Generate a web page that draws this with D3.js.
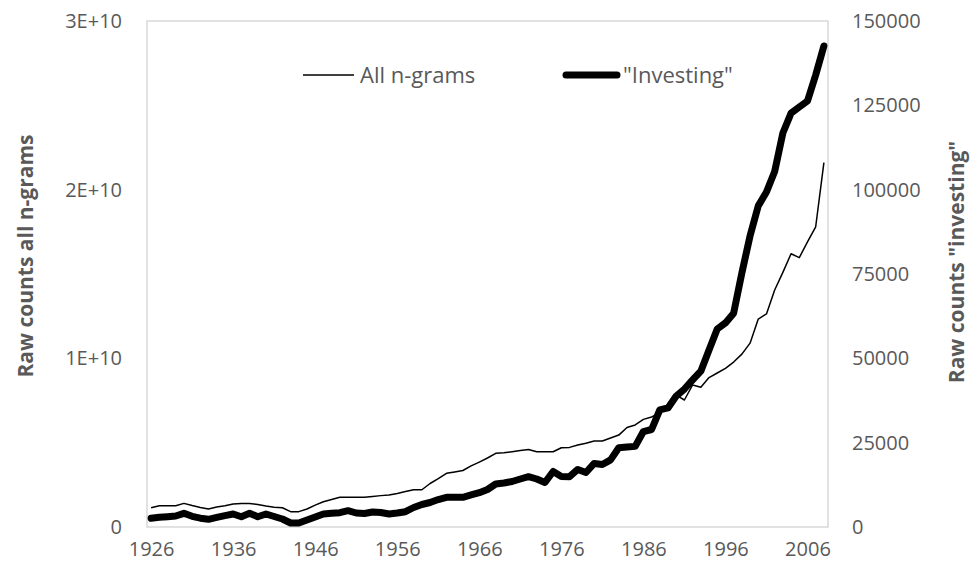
<!DOCTYPE html>
<html>
<head>
<meta charset="utf-8">
<script src="https://cdn.jsdelivr.net/npm/d3@7"></script>
<style>
  body { margin: 0; background: #fff; }
  text { font-family: "Open Sans", sans-serif; fill: #595959; }
</style>
</head>
<body>
<svg id="chart" width="972" height="576"></svg>
<script>
const years = d3.range(1926, 2009);

// all n-grams, in billions
const allNgrams = [
  1.14, 1.26, 1.26, 1.26, 1.40, 1.27, 1.16, 1.07, 1.19, 1.26,
  1.36, 1.40, 1.40, 1.33, 1.24, 1.17, 1.14, 0.91, 0.91, 1.07,
  1.30, 1.50, 1.63, 1.76, 1.76, 1.76, 1.76, 1.81, 1.86, 1.90,
  1.99, 2.10, 2.21, 2.21, 2.58, 2.87, 3.18, 3.26, 3.35, 3.62,
  3.85, 4.09, 4.37, 4.40, 4.46, 4.53, 4.59, 4.46, 4.46, 4.46,
  4.70, 4.72, 4.86, 4.96, 5.10, 5.10, 5.28, 5.45, 5.90, 6.05,
  6.38, 6.52, 6.76, 7.11, 7.82, 7.53, 8.42, 8.28, 8.86, 9.13,
  9.40, 9.78, 10.25, 10.9, 12.33, 12.63, 14.05, 15.1, 16.2, 15.97,
  16.9, 17.8, 21.6
];

// "investing", in thousands
const investing = [
  2.58, 2.88, 3.05, 3.26, 4.06, 3.17, 2.61, 2.28, 2.85, 3.38,
  3.85, 3.05, 4.06, 3.05, 3.85, 3.11, 2.37, 1.19, 1.19, 2.08,
  2.96, 3.85, 4.06, 4.24, 4.83, 4.15, 4.00, 4.45, 4.30, 3.85,
  4.15, 4.54, 5.78, 6.67, 7.26, 8.15, 8.81, 8.81, 8.81, 9.49,
  10.17, 11.12, 12.75, 13.04, 13.49, 14.23, 14.91, 14.23, 13.19, 16.45,
  14.97, 14.91, 17.05, 16.16, 18.83, 18.53, 19.9, 23.5, 23.7, 23.9,
  28.3, 28.9, 34.7, 35.3, 38.8, 40.9, 43.6, 46.2, 52.5, 58.7,
  60.5, 63.4, 75.3, 86.3, 95.2, 99.3, 105.4, 116.8, 122.7, 124.5,
  126.3, 134.0, 142.6
];

const leftTicks = [0, 1e10, 2e10, 3e10];
const leftTickLabels = ["0", "1E+10", "2E+10", "3E+10"];
const rightTicks = [0, 25000, 50000, 75000, 100000, 125000, 150000];
const xTicks = [1926, 1936, 1946, 1956, 1966, 1976, 1986, 1996, 2006];

const svg = d3.select("#chart");
const plot = { left: 147, right: 828, top: 21, bottom: 527 };

const x = d3.scalePoint().domain(years).range([plot.left, plot.right]).padding(0.5);
const yLeft = d3.scaleLinear().domain([0, 3e10]).range([plot.bottom, plot.top]);
const yRight = d3.scaleLinear().domain([0, 150000]).range([plot.bottom, plot.top]);

// plot border
svg.append("rect")
  .attr("x", plot.left).attr("y", plot.top)
  .attr("width", plot.right - plot.left).attr("height", plot.bottom - plot.top)
  .attr("fill", "none").attr("stroke", "#d9d9d9").attr("stroke-width", 1.5);

// left axis
const leftAxis = d3.axisLeft(yLeft).tickValues(leftTicks).tickSize(0).tickPadding(25)
  .tickFormat((d, i) => leftTickLabels[i]);
const gl = svg.append("g").attr("transform", `translate(${plot.left},0)`).call(leftAxis);
gl.select(".domain").remove();
gl.selectAll("text").attr("font-size", 20).attr("fill", "#595959").style("font-family", "Open Sans");

// right axis
const rightAxis = d3.axisRight(yRight).tickValues(rightTicks).tickSize(0).tickPadding(24)
  .tickFormat(d3.format("d"));
const gr = svg.append("g").attr("transform", `translate(${plot.right},0)`).call(rightAxis);
gr.select(".domain").remove();
gr.selectAll("text").attr("font-size", 20).attr("fill", "#595959").style("font-family", "Open Sans");

// bottom axis
const bottomAxis = d3.axisBottom(x).tickValues(xTicks).tickSize(0).tickPadding(15);
const gb = svg.append("g").attr("transform", `translate(0,${plot.bottom})`).call(bottomAxis);
gb.select(".domain").remove();
gb.selectAll("text").attr("font-size", 20).attr("fill", "#595959").style("font-family", "Open Sans");

// axis titles
svg.append("text")
  .attr("transform", "translate(33,256) rotate(-90)")
  .attr("text-anchor", "middle")
  .attr("font-size", 21).attr("font-weight", "bold")
  .text("Raw counts all n-grams");

svg.append("text")
  .attr("transform", "translate(964,262) rotate(-90)")
  .attr("text-anchor", "middle")
  .attr("font-size", 21).attr("font-weight", "bold")
  .text("Raw counts \"investing\"");

// lines
const lineAll = d3.line()
  .x((d, i) => x(years[i]))
  .y(d => yLeft(d * 1e9));
const lineInv = d3.line()
  .x((d, i) => x(years[i]))
  .y(d => yRight(d * 1000));

svg.append("path").datum(allNgrams)
  .attr("fill", "none").attr("stroke", "#000").attr("stroke-width", 1.5)
  .attr("stroke-linejoin", "round")
  .attr("d", lineAll);

svg.append("path").datum(investing)
  .attr("fill", "none").attr("stroke", "#000").attr("stroke-width", 7)
  .attr("stroke-linejoin", "round").attr("stroke-linecap", "round")
  .attr("d", lineInv);

// legend
const legend = svg.append("g");
legend.append("line")
  .attr("x1", 303).attr("x2", 354).attr("y1", 75).attr("y2", 75)
  .attr("stroke", "#000").attr("stroke-width", 1.5);
legend.append("text")
  .attr("x", 360).attr("y", 83).attr("font-size", 22)
  .text("All n-grams");
legend.append("line")
  .attr("x1", 566).attr("x2", 617).attr("y1", 75).attr("y2", 75)
  .attr("stroke", "#000").attr("stroke-width", 7).attr("stroke-linecap", "round");
legend.append("text")
  .attr("x", 623).attr("y", 83).attr("font-size", 22)
  .text("\"Investing\"");
</script>
</body>
</html>
